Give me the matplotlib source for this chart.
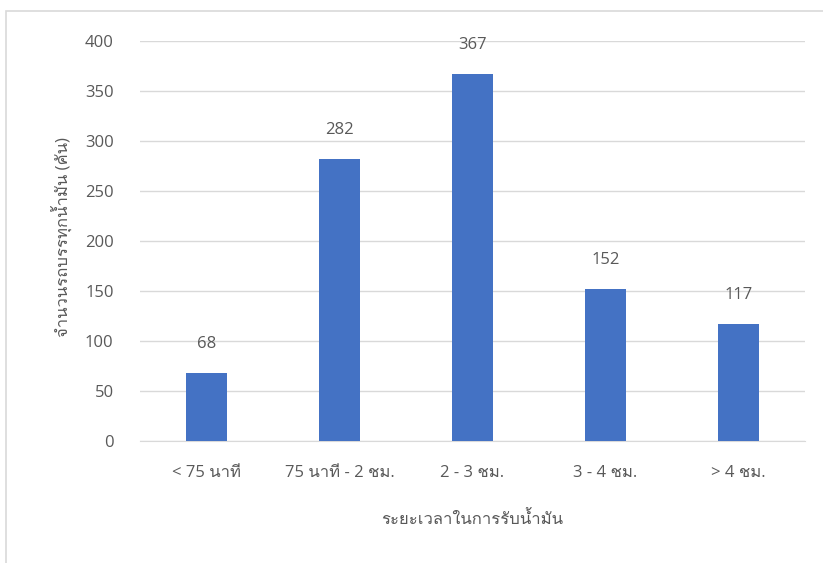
import matplotlib
matplotlib.use("Agg")
import matplotlib.pyplot as plt
from matplotlib import font_manager, ft2font
from matplotlib.patches import Rectangle

categories = ["< 75 นาที", "75 นาที - 2 ชม.", "2 - 3 ชม.", "3 - 4 ชม.", "> 4 ชม."]
counts = [68, 282, 367, 152, 117]
y_ticks = [0, 50, 100, 150, 200, 250, 300, 350, 400]
x_title = "ระยะเวลาในการรับน้ำมัน"
y_title = "จำนวนรถบรรทุกน้ำมัน (คัน)"


def thai_family():
    for f in font_manager.fontManager.ttflist:
        try:
            cmap = ft2font.FT2Font(f.fname).get_charmap()
        except Exception:
            continue
        if 0x0E01 in cmap and 0x0E19 in cmap and 0x0E32 in cmap:
            return f.name
    return None


fam = thai_family()
families = ["Open Sans"] + ([fam] if fam else []) + ["DejaVu Sans"]
plt.rcParams["font.family"] = families

W, H = 823, 563
fig = plt.figure(figsize=(W / 100, H / 100), dpi=100)
ax = fig.add_axes([140 / W, 1 - 441 / H, 665 / W, 400 / H])

text_col = "#595959"
grid_col = "#d9d9d9"
bar_col = "#4472C4"

x = list(range(len(categories)))
ax.bar(x, counts, width=0.315, color=bar_col, zorder=3)
for xi, v in zip(x, counts):
    ax.annotate(str(v), (xi, v), xytext=(0, 15), textcoords="offset points",
                ha="center", va="bottom", fontsize=12, color=text_col)

ax.set_xlim(-0.5, len(categories) - 0.5)
ax.set_ylim(0, 400)
ax.set_yticks(y_ticks)
ax.set_xticks(x)
ax.set_xticklabels(categories)
ax.tick_params(axis="both", length=0, labelsize=12, labelcolor=text_col)
ax.tick_params(axis="y", pad=19)
ax.tick_params(axis="x", pad=17.5)
ax.yaxis.grid(True, color=grid_col, linewidth=1, zorder=0)
for s in ("top", "right", "left"):
    ax.spines[s].set_visible(False)
ax.spines["bottom"].set_color(grid_col)

fig.text(472 / W, 1 - 520 / H, x_title, ha="center", va="center",
         fontsize=12, color=text_col)
fig.text(62 / W, 1 - 237 / H, y_title, ha="center", va="center",
         rotation=90, fontsize=12, color=text_col)

# outer chart-area border
fig.add_artist(Rectangle((6 / W, -0.2), 1.2, 1.2 - 11 / H,
                         transform=fig.transFigure, fill=False,
                         edgecolor=grid_col, linewidth=1.2))

fig.savefig("out.png", dpi=100, facecolor="white")
